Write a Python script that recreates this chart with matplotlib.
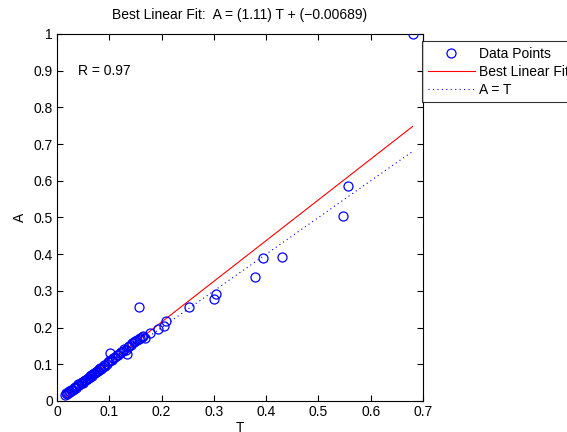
import matplotlib
matplotlib.use("Agg")
import matplotlib.pyplot as plt
import numpy as np

plt.rcParams['font.family'] = ['Liberation Sans', 'DejaVu Sans']

# Data points (T targets, A outputs)
T_vals = [0.015, 0.017, 0.019, 0.021, 0.023, 0.025, 0.027, 0.029, 0.031, 0.033,
          0.035, 0.037, 0.039, 0.041, 0.043, 0.045, 0.047, 0.049, 0.051, 0.053,
          0.055, 0.057, 0.059, 0.061, 0.063, 0.065, 0.067, 0.069, 0.071, 0.073,
          0.075, 0.077, 0.079, 0.081, 0.083, 0.085, 0.088, 0.090, 0.092, 0.095,
          0.098, 0.100, 0.103, 0.106, 0.108, 0.111, 0.114, 0.117, 0.120, 0.123,
          0.126, 0.129, 0.132, 0.135, 0.138, 0.141, 0.144, 0.147, 0.150, 0.153,
          0.156, 0.159, 0.162, 0.165, 0.168,
          0.102, 0.134, 0.156, 0.178, 0.193, 0.204, 0.209, 0.252, 0.301, 0.305,
          0.379, 0.394, 0.431, 0.547, 0.556, 0.680]
A_vals = [0.017, 0.021, 0.018, 0.023, 0.026, 0.024, 0.029, 0.031, 0.030, 0.036,
          0.038, 0.036, 0.042, 0.045, 0.043, 0.049, 0.051, 0.050, 0.055, 0.057,
          0.056, 0.061, 0.063, 0.062, 0.068, 0.070, 0.069, 0.074, 0.077, 0.075,
          0.080, 0.083, 0.081, 0.087, 0.090, 0.088, 0.094, 0.098, 0.096, 0.101,
          0.105, 0.108, 0.111, 0.113, 0.118, 0.119, 0.124, 0.126, 0.131, 0.134,
          0.136, 0.141, 0.140, 0.147, 0.150, 0.152, 0.157, 0.160, 0.163, 0.166,
          0.168, 0.171, 0.174, 0.176, 0.172,
          0.130, 0.128, 0.255, 0.186, 0.195, 0.204, 0.219, 0.256, 0.277, 0.292,
          0.337, 0.390, 0.392, 0.504, 0.587, 1.000]

slope = 1.11
intercept = -0.00689
R_value = 0.97

fig = plt.figure(figsize=(5.67, 4.32), dpi=100)
ax = fig.add_axes([57/567, 1 - 401/432, (423 - 57)/567, (401 - 34)/432])

T = np.array(T_vals)
A = np.array(A_vals)
tline = np.array([T.min(), T.max()])

h1, = ax.plot(T, A, 'o', mfc='none', mec='blue', ms=6.5, mew=0.9, label='Data Points', zorder=3)
h2, = ax.plot(tline, slope * tline + intercept, '-', color='red', lw=0.8, label='Best Linear Fit', zorder=2)
h3, = ax.plot(tline, tline, color='blue', ls=(0, (1, 3)), lw=0.8, label='A = T', zorder=2)

ax.set_xlim(0, 0.7)
ax.set_ylim(0, 1)
ax.set_xticks(np.arange(0, 0.71, 0.1))
ax.set_yticks(np.arange(0, 1.01, 0.1))
ax.set_xticklabels(['0', '0.1', '0.2', '0.3', '0.4', '0.5', '0.6', '0.7'])
ax.set_yticklabels(['0', '0.1', '0.2', '0.3', '0.4', '0.5', '0.6', '0.7', '0.8', '0.9', '1'])
ax.tick_params(direction='in', top=True, right=True, length=4, width=0.8, labelsize=10, pad=3)
for s in ax.spines.values():
    s.set_linewidth(0.8)

ax.set_xlabel('T', fontsize=10, labelpad=1)
ax.set_ylabel('A', fontsize=10, labelpad=5)
ax.set_title('Best Linear Fit:  A = (%.3g) T + (\u2212%.3g)' % (slope, -intercept), fontsize=10, pad=11)
ax.text(0.04, 0.9, 'R = %.2f' % R_value, fontsize=10, va='center', ha='left')

leg = fig.legend(handles=[h1, h2, h3], loc='upper left', bbox_to_anchor=(422/567, 1 - 41/432),
                 borderaxespad=0, fontsize=10, frameon=True, fancybox=False, edgecolor='black',
                 handlelength=3.4, labelspacing=0.3, borderpad=0.4, handletextpad=0.3)
leg.get_frame().set_linewidth(0.8)

fig.savefig('out.png', dpi=100)
